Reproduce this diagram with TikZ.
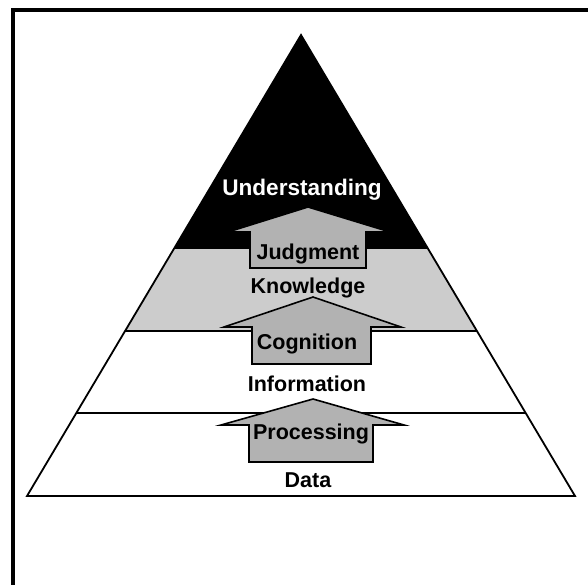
\documentclass[tikz,border=0pt]{standalone}
\usepackage{fontspec}
\setmainfont{Liberation Sans}
\usetikzlibrary{calc}
\definecolor{bandgray}{gray}{0.80}
\definecolor{arrowgray}{gray}{0.70}
\tikzset{
  lbl/.style={font=\fontsize{21.5}{24}\selectfont\bfseries, anchor=base, inner sep=0pt},
  biglbl/.style={font=\fontsize{22.6}{26}\selectfont\bfseries, anchor=base, inner sep=0pt},
  uparrow/.style={draw=black, line width=1.6pt, fill=arrowgray, line join=miter},
  bandline/.style={draw=black, line width=1.8pt},
}
\begin{document}
\begin{tikzpicture}[x=1pt,y=-1pt]
\useasboundingbox (0,0) rectangle (588,584);
\clip (0,0) rectangle (588,584);
\fill[white] (0,0) rectangle (588,584);
% frame
\draw[line width=4pt] (13,10) rectangle (620,620);
% pyramid corners
\coordinate (apex) at (301,35);
\coordinate (bl) at (27,496);
\coordinate (br) at (575,496);
\coordinate (l1) at ($(apex)!0.4642!(bl)$);
\coordinate (r1) at ($(apex)!0.4642!(br)$);
\coordinate (l2) at ($(apex)!0.6421!(bl)$);
\coordinate (r2) at ($(apex)!0.6421!(br)$);
\coordinate (l3) at ($(apex)!0.8200!(bl)$);
\coordinate (r3) at ($(apex)!0.8200!(br)$);
% fills
\fill[white] (apex) -- (bl) -- (br) -- cycle;
\fill[black] (apex) -- (l1) -- (r1) -- cycle;
\fill[bandgray] (l1) -- (l2) -- (r2) -- (r1) -- cycle;
% lines
\draw[bandline] (l2) -- (r2);
\draw[bandline] (l3) -- (r3);
\draw[bandline, line join=miter] (apex) -- (bl) -- (br) -- cycle;
% arrows
\draw[uparrow] (308,207) -- (390,232) -- (366,232) -- (366,268) -- (250,268) -- (250,232) -- (228,232) -- cycle;
\draw[uparrow] (313,297) -- (401,327) -- (371,327) -- (371,364) -- (252,364) -- (252,327) -- (224,327) -- cycle;
\draw[uparrow] (313,399) -- (404,425) -- (373,425) -- (373,462) -- (249,462) -- (249,425) -- (221,425) -- cycle;
% labels
\node[biglbl, text=white] (und) at (302,195) {Understanding};
\node[lbl] (jud) at (308,259) {Judgment};
\node[lbl] (kno) at (308,293) {Knowledge};
\node[lbl] (cog) at (307,349) {Cognition};
\node[lbl] (inf) at (307,391) {Information};
\node[lbl] (pro) at (311,439) {Processing};
\node[lbl] (dat) at (308,487) {Data};
\end{tikzpicture}
\end{document}
